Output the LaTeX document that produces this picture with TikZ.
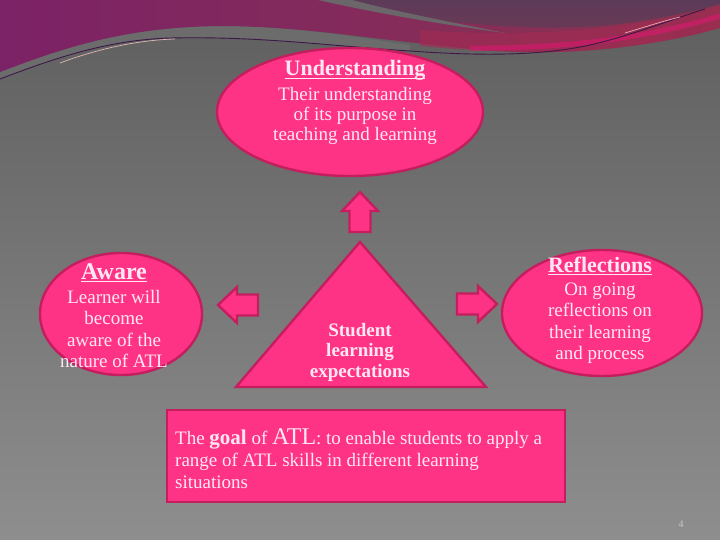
\documentclass[tikz,border=0pt]{standalone}
\usepackage{fontspec}
\setmainfont{Liberation Serif}
\usetikzlibrary{shapes.geometric}
\definecolor{bgtop}{HTML}{5E5E5E}
\definecolor{bgbot}{HTML}{8E8E8E}
\definecolor{maroonL}{HTML}{7C2266}
\definecolor{maroonR}{HTML}{8C3450}
\definecolor{mauve}{HTML}{5C3B58}
\definecolor{redglow}{HTML}{A32A52}
\definecolor{pinkstripe}{HTML}{C81F66}
\definecolor{bandgray}{HTML}{6A666A}
\definecolor{lightband}{HTML}{6C6C6C}
\definecolor{thinline}{HTML}{3E1848}
\definecolor{pinkfill}{HTML}{FF3385}
\definecolor{pinkedge}{HTML}{C41E5E}
\definecolor{txt}{HTML}{FFE8F3}
\definecolor{pagenum}{HTML}{CACACA}
\newcommand\myul[1]{\sbox0{#1}\rlap{\rule[-3pt]{\wd0}{1.4pt}}\usebox0}
\tikzset{
  shapestyle/.style={draw=pinkedge, fill=pinkfill, line width=2.4pt},
  txtline/.style={text=txt, inner sep=0pt, anchor=base, font=\fontsize{19}{21}\selectfont},
  headline/.style={text=txt, inner sep=0pt, anchor=base},
  blockarrow/.pic={\draw[shapestyle] (0,-10.5) -- (21,-10.5) -- (21,-18) -- (40,0) -- (21,18) -- (21,10.5) -- (0,10.5) -- cycle;}
}
\begin{document}
\begin{tikzpicture}[x=1pt,y=-1pt]
\useasboundingbox (0,0) rectangle (720,540);
% background
\shade[top color=bgtop, bottom color=bgbot] (0,0) rectangle (720,540);
% lighter band under the coloured swoosh
\fill[lightband] (0,72) .. controls (70,45) and (130,27) .. (220,26) .. controls (300,26) and (360,38) .. (410,45) -- (410,51) .. controls (330,46) and (260,36) .. (170,38) .. controls (110,40) and (60,56) .. (0,79) -- cycle;
% coloured top region
\shade[left color=maroonL, right color=maroonR] (0,0) -- (720,0) -- (720,28) .. controls (670,42) and (600,54) .. (520,52) .. controls (420,48) and (320,26) .. (220,26) .. controls (130,27) and (70,45) .. (0,72) -- cycle;
% red glow on the right
\fill[redglow, opacity=.6] (420,30) .. controls (520,38) and (640,30) .. (720,6) -- (720,28) .. controls (670,42) and (600,54) .. (520,52) .. controls (480,51) and (450,49) .. (420,46) -- cycle;
% mauve top right
\shade[top color=mauve, bottom color=mauve!70!maroonR] (330,0) .. controls (400,20) and (520,32) .. (600,26) .. controls (660,20) and (700,10) .. (720,4) -- (720,0) -- cycle;
% grey band between
\fill[bandgray] (318,0) .. controls (380,14) and (440,24) .. (505,33) .. controls (440,20) and (390,10) .. (352,0) -- cycle;
% pink stripe
\draw[pinkstripe, line width=5pt, opacity=.85] (470,48) .. controls (580,49) and (660,34) .. (720,16);
% thin line
\draw[thinline, line width=0.9pt] (0,79) .. controls (60,56) and (110,40) .. (170,38) .. controls (260,36) and (330,46) .. (410,51) .. controls (480,56) and (540,56) .. (590,45) .. controls (630,36) and (670,20) .. (705,9);
\draw[pink!80, line width=.7pt, opacity=.8] (60,63) .. controls (100,48) and (140,40) .. (175,39);
\draw[pink!80, line width=.7pt, opacity=.8] (625,33) .. controls (645,27) and (660,22) .. (680,17);

% Understanding ellipse
\node[ellipse, shapestyle, minimum width=266pt, minimum height=128pt, inner sep=0pt] (und) at (350,112) {};
\node[headline, font=\fontsize{22}{24}\selectfont\bfseries] (undh) at (355,76) {\myul{Understanding}};
\node[txtline] (und1) at (355,101) {Their understanding};
\node[txtline] (und2) at (355,121) {of its purpose in};
\node[txtline] (und3) at (355,141) {teaching and learning};

% Aware ellipse
\node[ellipse, shapestyle, minimum width=162pt, minimum height=122pt, inner sep=0pt] (aw) at (121,314) {};
\node[headline, font=\fontsize{24}{26}\selectfont\bfseries] (awh) at (114,279) {\myul{Aware}};
\node[txtline] (aw1) at (114,303) {Learner will};
\node[txtline] (aw2) at (114,324.5) {become};
\node[txtline] (aw3) at (114,346) {aware of the};
\node[txtline] (aw4) at (114,367.5) {nature of ATL};

% Reflections ellipse
\node[ellipse, shapestyle, minimum width=200pt, minimum height=126pt, inner sep=0pt] (ref) at (602,313) {};
\node[headline, font=\fontsize{22}{24}\selectfont\bfseries] (refh) at (600,272) {\myul{Reflections}};
\node[txtline] (ref1) at (600,295) {On going};
\node[txtline] (ref2) at (600,316.5) {reflections on};
\node[txtline] (ref3) at (600,338) {their learning};
\node[txtline] (ref4) at (600,359) {and process};

% triangle
\draw[shapestyle] (360,242) -- (486,387) -- (236,387) -- cycle;
\coordinate (tri) at (360,340);
\node[txtline, font=\fontsize{19}{21}\selectfont\bfseries] (tri1) at (360,336.5) {Student};
\node[txtline, font=\fontsize{19}{21}\selectfont\bfseries] (tri2) at (360,356.5) {learning};
\node[txtline, font=\fontsize{19}{21}\selectfont\bfseries] (tri3) at (360,377) {expectations};

% block arrows
\pic (uparrow) at (360,232) [rotate=90] {blockarrow};
\pic (leftarrow) at (258,305) [rotate=180] {blockarrow};
\pic (rightarrow) at (457,304) {blockarrow};

% goal box
\node[shapestyle, minimum width=398pt, minimum height=92pt, inner sep=0pt] (goal) at (366,456) {};
\node[txtline, anchor=base west] (goal1) at (175,444) {The {\fontsize{21}{23}\selectfont\bfseries goal} of {\fontsize{24}{26}\selectfont ATL}: to enable students to apply a};
\node[txtline, anchor=base west] (goal2) at (175,466) {range of ATL skills in different learning};
\node[txtline, anchor=base west] (goal3) at (175,488) {situations};

% page number
\node[text=pagenum, inner sep=0pt, anchor=base, font=\fontsize{10}{12}\selectfont] (pg) at (681,527) {4};
\end{tikzpicture}
\end{document}
